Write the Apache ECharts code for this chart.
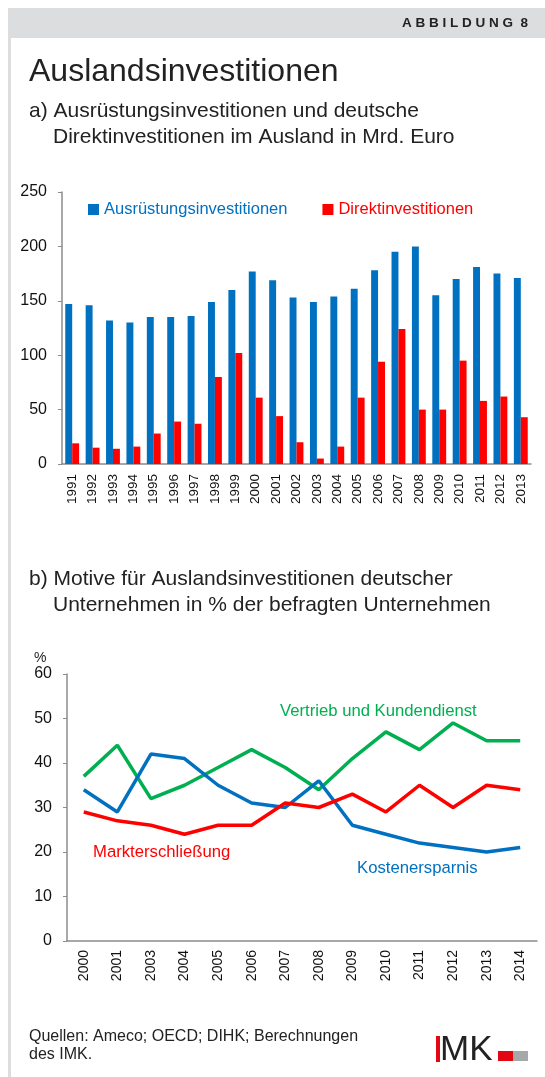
<!DOCTYPE html>
<html>
<head>
<meta charset="utf-8">
<script src="https://cdn.jsdelivr.net/npm/echarts@6/dist/echarts.min.js"></script>
<style>
  html, body { margin: 0; padding: 0; background: #fff; }
  #chart { width: 545px; height: 1077px; }
</style>
</head>
<body>
<div id="chart"></div>
<script>
// Teil a) Mrd. Euro
var jahreA = ['1991','1992','1993','1994','1995','1996','1997','1998','1999','2000','2001','2002',
  '2003','2004','2005','2006','2007','2008','2009','2010','2011','2012','2013'];
var ausruestung = [147,146,132,130,135,135,136,149,160,177,169,153,149,154,161,178,195,200,155,170,181,175,171];
var direkt = [19,15,14,16,28,39,37,80,102,61,44,20,5,16,61,94,124,50,50,95,58,62,43];
var tickA = [0,50,100,150,200,250];

// Teil b) Motive in %
var jahreB = ['2000','2001','2003','2004','2005','2006','2007','2008','2009','2010','2011','2012','2013','2014'];
var vertrieb = [37,44,32,35,39,43,39,34,41,47,43,49,45,45];
var kosten = [34,29,42,41,35,31,30,36,26,24,22,21,20,21];
var markt = [29,27,26,24,26,26,31,30,33,29,35,30,35,34];
var tickB = [0,10,20,30,40,50,60];

var blau = '#0070c0', rot = '#ff0000', gruen = '#00b050';
var font = 'Liberation Sans, Arial, sans-serif';
var achse = '#8c8c8c';

var myecharts = echarts.init(document.getElementById('chart'));

function txt(x, y, s, size, color, extra) {
  var st = { text: s, font: (extra || '') + ' ' + size + 'px ' + font, fill: color,
    verticalAlign: 'middle', align: 'left' };
  return { type: 'text', x: x, y: y, style: st, z: 10 };
}

myecharts.setOption({
  animation: false,
  textStyle: { fontFamily: font },
  grid: [
    { left: 62, top: 192, width: 469, height: 272 },
    { left: 67, top: 674, width: 470, height: 267 }
  ],
  legend: {
    left: 83, top: 196, itemWidth: 11, itemHeight: 11, itemGap: 35,
    icon: 'rect',
    textStyle: { fontSize: 16.5, fontFamily: font },
    data: [
      { name: 'Ausrüstungsinvestitionen', textStyle: { color: blau } },
      { name: 'Direktinvestitionen', textStyle: { color: rot } }
    ]
  },
  xAxis: [
    {
      type: 'category', gridIndex: 0, data: jahreA,
      axisLine: { lineStyle: { color: achse, width: 1.5 } },
      axisTick: { interval: 0, length: 5, lineStyle: { color: achse } },
      axisLabel: { interval: 0, rotate: 90, fontSize: 13.5, color: '#111', margin: 10 }
    },
    {
      type: 'category', gridIndex: 1, data: jahreB,
      axisLine: { lineStyle: { color: achse, width: 1.5 } },
      axisTick: { interval: 0, length: 5, lineStyle: { color: achse } },
      axisLabel: { interval: 0, rotate: 90, fontSize: 14, color: '#111', margin: 9 }
    }
  ],
  yAxis: [
    {
      type: 'value', gridIndex: 0, min: tickA[0], max: tickA[tickA.length - 1], interval: 50,
      axisLine: { show: true, lineStyle: { color: achse, width: 1.5 } },
      axisTick: { show: true, length: 4, lineStyle: { color: achse } },
      splitLine: { show: false },
      axisLabel: { fontSize: 16, color: '#111', margin: 15 }
    },
    {
      type: 'value', gridIndex: 1, min: tickB[0], max: tickB[tickB.length - 1], interval: 10,
      axisLine: { show: true, lineStyle: { color: achse, width: 1.5 } },
      axisTick: { show: true, length: 4, lineStyle: { color: achse } },
      splitLine: { show: false },
      axisLabel: { fontSize: 16, color: '#111', margin: 15 }
    }
  ],
  series: [
    {
      name: 'Ausrüstungsinvestitionen', type: 'bar', xAxisIndex: 0, yAxisIndex: 0,
      data: ausruestung, itemStyle: { color: blau }, barGap: '0%', barCategoryGap: '32%'
    },
    {
      name: 'Direktinvestitionen', type: 'bar', xAxisIndex: 0, yAxisIndex: 0,
      data: direkt, itemStyle: { color: rot }, barGap: '0%', barCategoryGap: '32%'
    },
    {
      name: 'Vertrieb und Kundendienst', type: 'line', xAxisIndex: 1, yAxisIndex: 1,
      data: vertrieb, showSymbol: false, lineStyle: { color: gruen, width: 3.5 }, itemStyle: { color: gruen }
    },
    {
      name: 'Kostenersparnis', type: 'line', xAxisIndex: 1, yAxisIndex: 1,
      data: kosten, showSymbol: false, lineStyle: { color: blau, width: 3.5 }, itemStyle: { color: blau }
    },
    {
      name: 'Markterschließung', type: 'line', xAxisIndex: 1, yAxisIndex: 1,
      data: markt, showSymbol: false, lineStyle: { color: rot, width: 3.5 }, itemStyle: { color: rot }
    }
  ],
  graphic: [
    // Kopfband und linker Rand
    { type: 'rect', shape: { x: 8, y: 8, width: 537, height: 30 }, style: { fill: '#dcdddf' } },
    { type: 'rect', shape: { x: 8, y: 38, width: 3, height: 1039 }, style: { fill: '#dcdddf' } },
    { type: 'text', x: 528, y: 23, style: { text: 'A B B I L D U N G  8', font: 'bold 13.5px ' + font,
      fill: '#222', align: 'right', verticalAlign: 'middle' } },
    txt(29, 72, 'Auslandsinvestitionen', 32, '#222'),
    txt(29, 111, 'a) Ausrüstungsinvestitionen und deutsche', 21, '#222'),
    txt(53, 137, 'Direktinvestitionen im Ausland in Mrd. Euro', 21, '#222'),
    txt(29, 579, 'b) Motive für Auslandsinvestitionen deutscher', 21, '#222'),
    txt(53, 605, 'Unternehmen in % der befragten Unternehmen', 21, '#222'),
    txt(34, 658, '%', 14, '#222'),
    txt(280, 711, 'Vertrieb und Kundendienst', 16.7, gruen),
    txt(93, 852, 'Markterschließung', 16.7, rot),
    txt(357, 868, 'Kostenersparnis', 16.7, blau),
    // Fußzeile
    txt(29, 1037, 'Quellen: Ameco; OECD; DIHK; Berechnungen', 16, '#222'),
    txt(29, 1055, 'des IMK.', 16, '#222'),
    { type: 'rect', shape: { x: 436, y: 1036, width: 4, height: 26 }, style: { fill: '#e30613' } },
    txt(440, 1050, 'MK', 35, '#222'),
    { type: 'rect', shape: { x: 498, y: 1051, width: 15, height: 10 }, style: { fill: '#e30613' } },
    { type: 'rect', shape: { x: 513, y: 1051, width: 15, height: 10 }, style: { fill: '#a7a8aa' } }
  ]
});
</script>
</body>
</html>
